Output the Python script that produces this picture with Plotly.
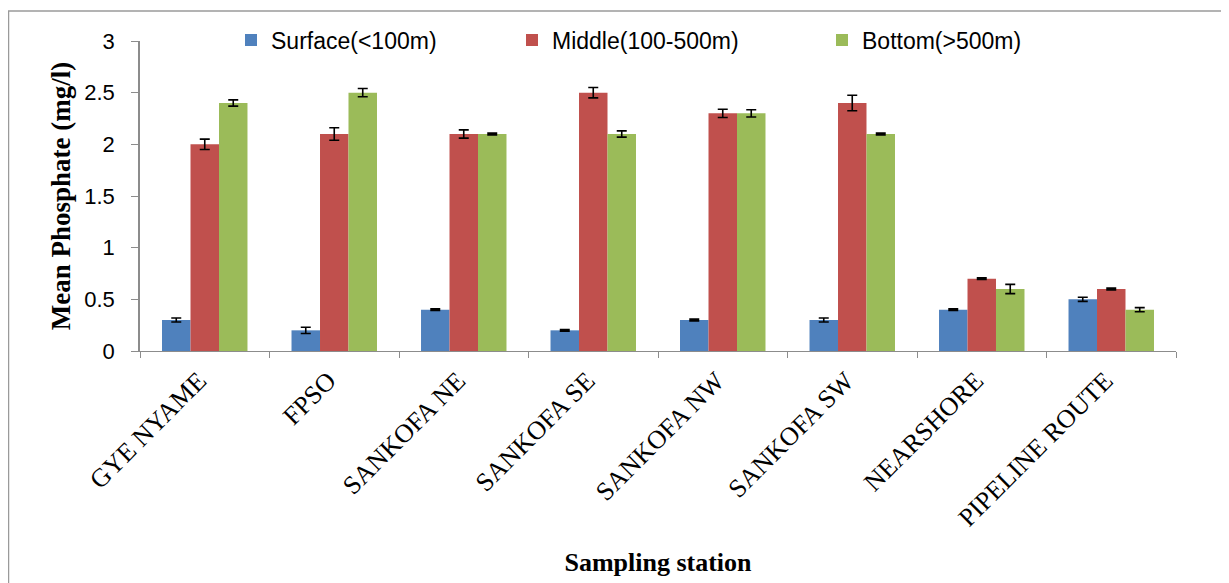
import plotly.graph_objects as go

stations = ["GYE NYAME", "FPSO", "SANKOFA NE", "SANKOFA SE",
            "SANKOFA NW", "SANKOFA SW", "NEARSHORE", "PIPELINE ROUTE"]

surface = [0.3, 0.2, 0.4, 0.2, 0.3, 0.3, 0.4, 0.5]
middle = [2.0, 2.1, 2.1, 2.5, 2.3, 2.4, 0.7, 0.6]
bottom = [2.4, 2.5, 2.1, 2.1, 2.3, 2.1, 0.6, 0.4]

surface_err = [0.02, 0.03, 0.008, 0.008, 0.008, 0.02, 0.008, 0.02]
middle_err = [0.05, 0.06, 0.04, 0.05, 0.04, 0.075, 0.008, 0.008]
bottom_err = [0.03, 0.04, 0.008, 0.03, 0.035, 0.008, 0.045, 0.02]

series_names = ["Surface(<100m)", "Middle(100-500m)", "Bottom(>500m)"]
colors = ["#4F81BD", "#C0504D", "#9BBB59"]

# page body has an 8px default margin: figure is drawn offset by (8, 8)
OFF = 8
W, H = 1229 - OFF, 583 - OFF
ML, MT = 140 - OFF, 41 - OFF
PW, PH = 1036, 310
MR = W - ML - PW
MB = H - MT - PH


def px_x(px):
    return (px - OFF - ML) / PW


def px_y(py):
    return (MT + PH - (py - OFF)) / PH


fig = go.Figure()
legend_ids = ["legend", "legend2", "legend3"]
for name, vals, errs, col, lg in zip(series_names, [surface, middle, bottom],
                                     [surface_err, middle_err, bottom_err],
                                     colors, legend_ids):
    fig.add_trace(go.Bar(
        x=stations, y=vals, name=name, marker_color=col,
        marker_line_width=0,
        error_y=dict(type="data", array=errs, visible=True,
                     color="black", thickness=1.6, width=5),
        legend=lg,
    ))

legend_font = dict(family="Liberation Sans, Arial, sans-serif", size=23, color="black")
legend_common = dict(orientation="h", font=legend_font, bgcolor="rgba(0,0,0,0)",
                     yanchor="middle", xanchor="left", borderwidth=0)
box_px = [231, 512, 822]
fig.update_layout(
    legend=dict(x=px_x(box_px[0]), y=px_y(40), **legend_common),
    legend2=dict(x=px_x(box_px[1]), y=px_y(40), **legend_common),
    legend3=dict(x=px_x(box_px[2]), y=px_y(40), **legend_common),
)

fig.update_layout(
    width=W, height=H,
    margin=dict(l=ML, r=MR, t=MT, b=MB, autoexpand=False),
    paper_bgcolor="white", plot_bgcolor="white",
    barmode="group", bargap=0.34, bargroupgap=0,
    showlegend=True,
)

fig.update_xaxes(
    showline=True, linecolor="#8C8C8C", linewidth=1.3,
    ticks="outside", tickson="boundaries", ticklen=6, tickcolor="#8C8C8C",
    tickwidth=1.3, tickangle=-45, showgrid=False, automargin=False,
    ticklabelshift=-6, ticklabelstandoff=3,
    tickfont=dict(family="Liberation Serif, Times New Roman, serif", size=26, color="black"),
    title=dict(text="<b>Sampling station</b>", standoff=21,
               font=dict(family="Liberation Serif, Times New Roman, serif", size=26, color="black")),
)
fig.update_yaxes(
    range=[0, 3], dtick=0.5, tick0=0,
    showline=True, linecolor="#8C8C8C", linewidth=1.5,
    ticks="outside", ticklen=7, tickcolor="#8C8C8C", tickwidth=1.3,
    showgrid=False, zeroline=False, automargin=False,
    ticklabelstandoff=12,
    tickfont=dict(family="Liberation Sans, Arial, sans-serif", size=22, color="black"),
    title=dict(text="<b>Mean Phosphate (mg/l)</b>", standoff=6,
               font=dict(family="Liberation Serif, Times New Roman, serif", size=27, color="black")),
)

# outer frame of the figure
fig.add_shape(type="rect", xref="paper", yref="paper",
              x0=px_x(8.5), x1=px_x(1240), y0=px_y(600), y1=px_y(11),
              line=dict(color="#9A9A9A", width=1.5), fillcolor="rgba(0,0,0,0)",
              layer="below")

fig.write_html("out.html")
